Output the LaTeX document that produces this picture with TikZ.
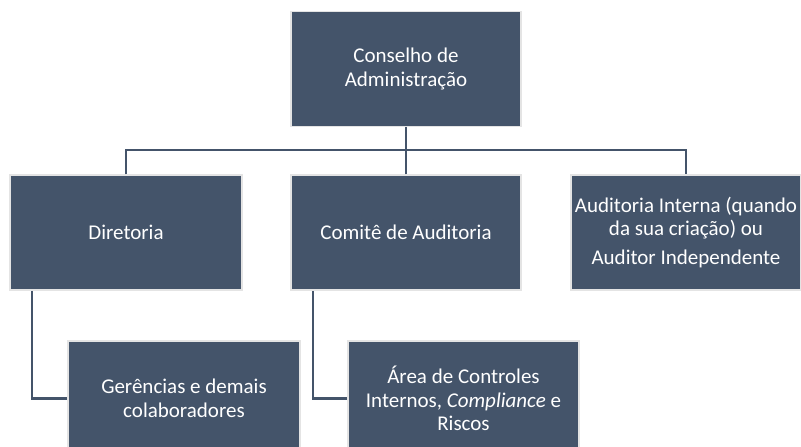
\documentclass[tikz,border=0pt]{standalone}
\usepackage{fontspec}
\setmainfont{Carlito}
\definecolor{boxblue}{HTML}{44546A}
\definecolor{boxedge}{HTML}{E4E4E4}
\begin{document}
\begin{tikzpicture}[x=1pt,y=-1pt,
  orgbox/.style={fill=boxblue, draw=boxedge, line width=1.5pt, text=white,
    align=center, inner sep=0pt, minimum height=115pt,
    font=\fontsize{21}{23.5}\selectfont},
  link/.style={draw=boxblue, line width=2.2pt}]
\useasboundingbox (0,0) rectangle (801,447);
\clip (0,0) rectangle (801,447);
\node[orgbox, minimum width=230pt] (top) at (406,69) {Conselho de\\Administração};
\node[orgbox, minimum width=232pt] (dir) at (126,232.5) {Diretoria};
\node[orgbox, minimum width=230pt] (com) at (406,232.5) {Comitê de Auditoria};
\node[orgbox, minimum width=230pt] (aud) at (686,232.5) {Auditoria Interna (quando\\da sua criação) ou\\[5pt]Auditor Independente};
\node[orgbox, minimum width=232pt] (ger) at (184,398.5) {Gerências e demais\\colaboradores};
\node[orgbox, minimum width=231pt] (area) at (463.5,398.5) {Área de Controles\\Internos, \textit{Compliance} e\\Riscos};
\coordinate (bus) at (406,150);
\draw[link] (top.south) -- (bus);
\draw[link] (dir.north) |- (bus) -| (aud.north);
\draw[link] (com.north) -- (bus);
\draw[link] ([xshift=23pt]dir.south west) |- (ger.west);
\draw[link] ([xshift=23pt]com.south west) |- (area.west);
\end{tikzpicture}
\end{document}
